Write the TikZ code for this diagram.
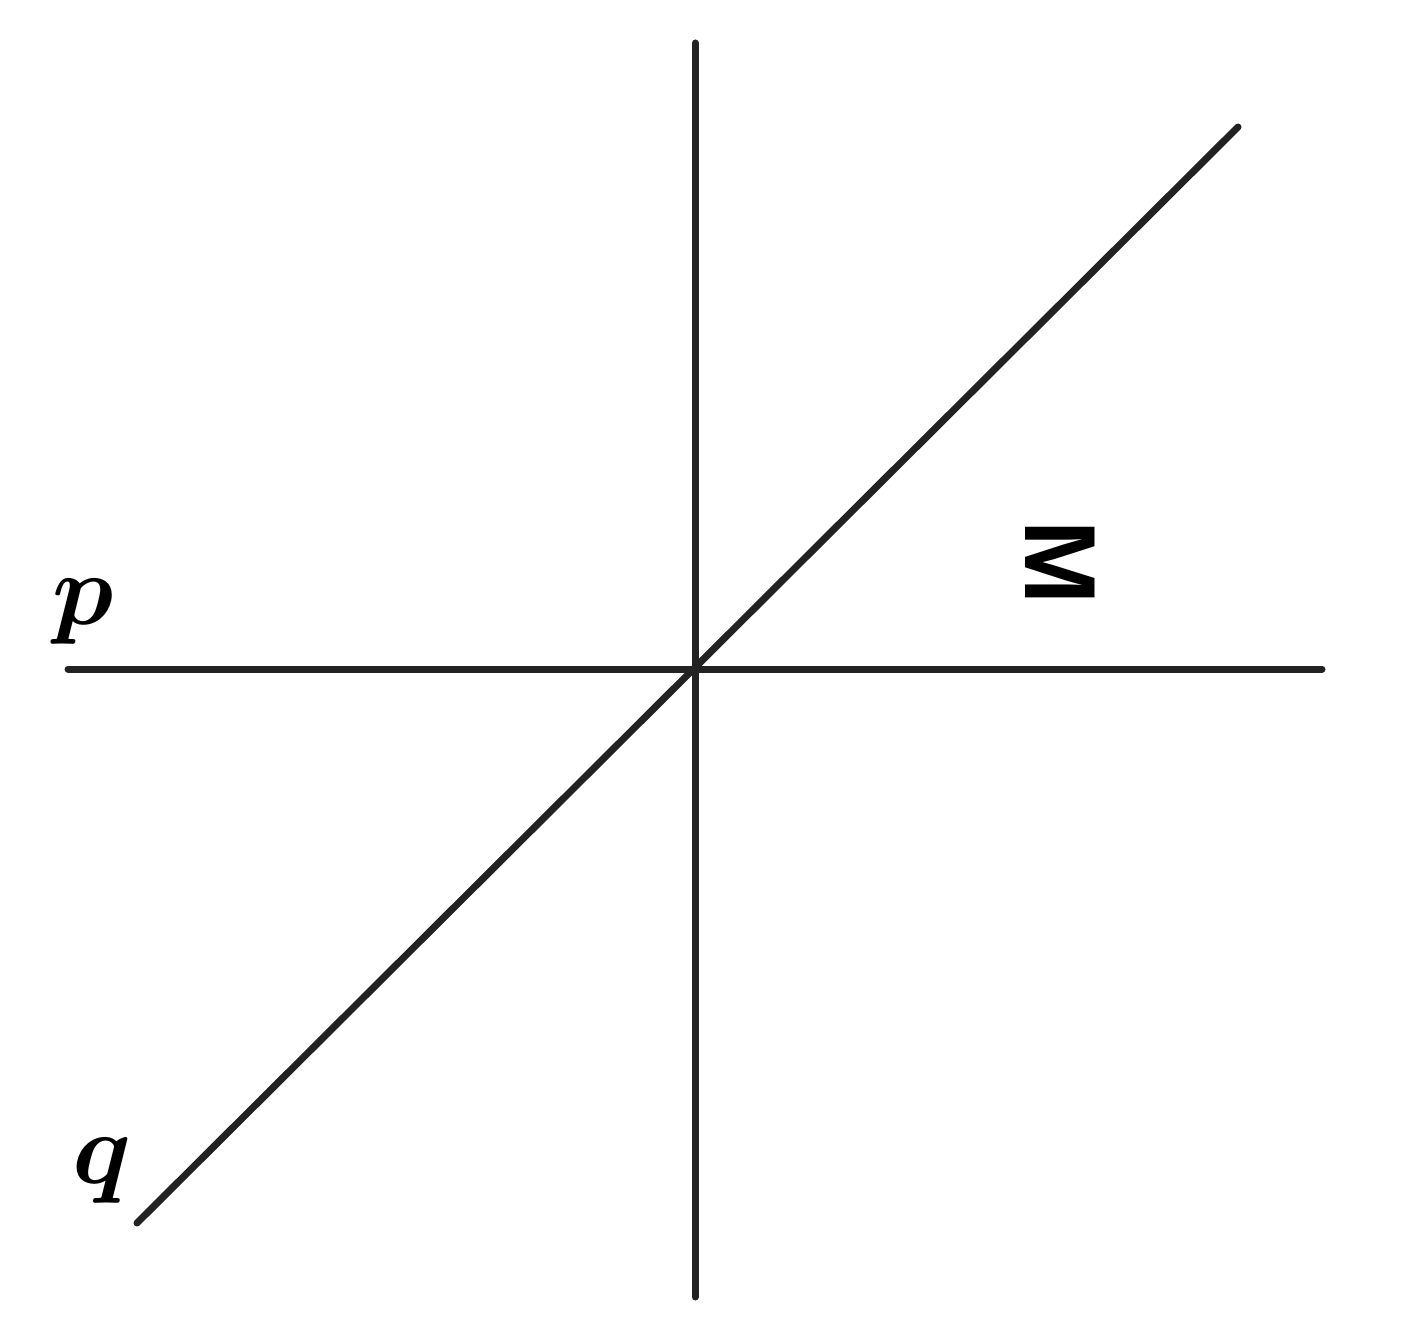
\documentclass[tikz,border=0pt]{standalone}
\usepackage{bm}
\usepackage{fontspec}
\newfontfamily\msans{Liberation Sans}
\definecolor{linegray}{HTML}{222222}
\begin{document}
\begin{tikzpicture}[x=0.5pt,y=-0.5pt,
  axisline/.style={line width=3.5pt, draw=linegray, line cap=round},
  mathlabel/.style={inner sep=0pt, scale=5.1},
  mlabel/.style={inner sep=0pt, rotate=-90, scale=5.05}]
\useasboundingbox (0,0) rectangle (1418,1331);
\coordinate (pL) at (68,669);
\coordinate (pR) at (1322,669);
\coordinate (vT) at (695,43);
\coordinate (vB) at (695,1297);
\coordinate (qL) at (137,1223);
\coordinate (qR) at (1238,127);
\draw[axisline] (pL) -- (pR);
\draw[axisline] (vT) -- (vB);
\draw[axisline] (qL) -- (qR);
\node[mathlabel] (plab) at (83,612) {$\bm{p}$};
\node[mathlabel] (qlab) at (102,1171) {$\bm{q}$};
\node[mlabel] (mlab) at (1060,563) {\msans\bfseries M};
\end{tikzpicture}
\end{document}
